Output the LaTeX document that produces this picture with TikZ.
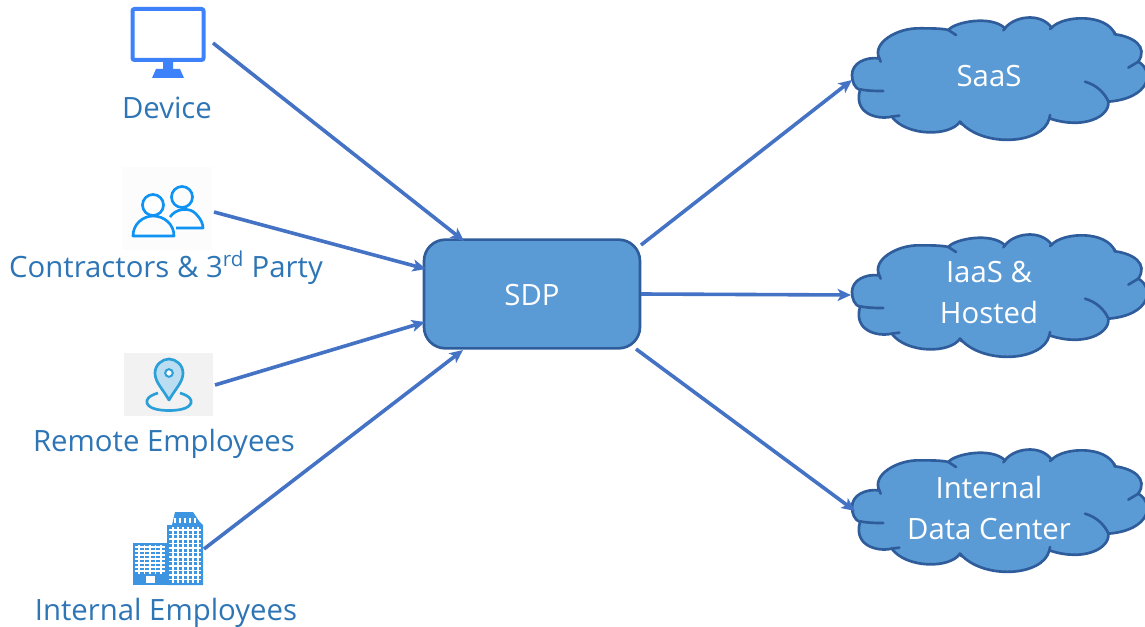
\documentclass[tikz,border=0pt]{standalone}
\usepackage{fontspec}
\setmainfont{Open Sans}
\usetikzlibrary{arrows.meta}
\definecolor{linkc}{HTML}{4472C4}
\definecolor{fillc}{HTML}{5B9BD5}
\definecolor{edgec}{HTML}{2F5D9B}
\definecolor{labelc}{HTML}{2E75B6}
\definecolor{monc}{HTML}{3D82FA}
\definecolor{pplc}{HTML}{0E93F5}
\definecolor{pinc}{HTML}{2A9FD8}
\definecolor{pinf}{HTML}{BBDDF2}
\definecolor{bldc}{HTML}{3D94E0}
\tikzset{
  link/.style={draw=linkc,line width=2.7pt,-{Stealth[length=10pt,width=9pt,inset=2.5pt]}},
  label/.style={text=labelc,font=\fontsize{22}{26}\selectfont,inner sep=0pt,anchor=base},
  inbox/.style={text=white,font=\fontsize{22}{30.75}\selectfont,align=center,inner sep=0pt},
  cloudline/.style={draw=edgec,line width=2pt,line cap=round,line join=round},
}
\newcommand{\mycloud}[1]{%
\begin{scope}[shift={(840,5+#1)},x=0.25pt,y=-0.25pt]
\path[cloudline,fill=fillc] (36,210)
 .. controls (36,175) and (75,155) .. (118,160)
 .. controls (95,115) and (170,68) .. (240,70)
 .. controls (270,70) and (305,70) .. (325,75)
 .. controls (345,50) and (455,30) .. (495,70)
 .. controls (520,35) and (600,20) .. (635,68)
 .. controls (670,30) and (800,25) .. (825,88)
 .. controls (880,95) and (925,125) .. (895,170)
 .. controls (945,200) and (930,280) .. (805,290)
 .. controls (810,335) and (730,375) .. (628,340)
 .. controls (610,418) and (430,430) .. (360,350)
 .. controls (330,395) and (200,395) .. (155,335)
 .. controls (110,345) and (40,325) .. (60,255)
 .. controls (44,250) and (36,230) .. (36,210) -- cycle;
\draw[cloudline] (60,253) .. controls (85,258) and (110,258) .. (130,258);
\draw[cloudline] (118,160) -- (122,170);
\draw[cloudline] (155,335) -- (178,332);
\draw[cloudline] (360,350) -- (365,358);
\draw[cloudline] (628,340) -- (630,330);
\draw[cloudline] (735,230) .. controls (770,240) and (795,265) .. (805,290);
\draw[cloudline] (865,188) -- (895,170);
\draw[cloudline] (825,88) -- (822,80);
\draw[cloudline] (635,68) -- (630,72);
\draw[cloudline] (495,70) -- (490,76);
\draw[cloudline] (325,75) -- (348,90);
\end{scope}}
\begin{document}
\begin{tikzpicture}[x=0.75pt,y=-0.75pt]
\useasboundingbox (0,0) rectangle (1145,627);
\clip (0,0) rectangle (1145,627);
% clouds
\mycloud{0}
\mycloud{217}
\mycloud{432}
% SDP
\node[draw=edgec,fill=fillc,line width=2pt,rounded corners=16pt,minimum width=162pt,minimum height=81.5pt,inner sep=0pt] (sdp) at (532,294) {};
\node[inbox] (sdptext) at (532,295) {SDP};
\node[inbox] (saas) at (989,76) {SaaS};
\node[inbox] (iaas) at (989,292.5) {IaaS \&\\Hosted};
\node[inbox] (dc) at (989,507.5) {Internal\\Data Center};
% monitor
\draw[monc,line width=3pt,rounded corners=1.5pt] (132.5,9) rectangle (203.5,60);
\fill[monc] (163,61) -- (173,61) -- (173,69) -- (180,69) -- (184,78) -- (152,78) -- (156,69) -- (163,69) -- cycle;
% people
\fill[black!2,opacity=.6] (122,167) rectangle (212,250);
\begin{scope}[pplc,line width=2pt,line join=round]
\draw (182,197) circle (10.5);
\draw (170,217) .. controls (176,208) and (190,207) .. (196,214) .. controls (201,219) and (203,224) .. (203,228) -- (176,228);
\draw[fill=white] (153,205) circle (10.5);
\draw (133,236) .. controls (133,224) and (143,216) .. (153,216) .. controls (164,216) and (174,224) .. (174,236) -- cycle;
\end{scope}
% pin
\fill[black!5] (124,353) rectangle (213,416);
\begin{scope}[pinc,line width=2pt]
\draw (158,393) .. controls (148,396) and (146,400) .. (147,403) .. controls (149,409) and (160,410.5) .. (169,410.5) .. controls (178,410.5) and (189,409) .. (191,403) .. controls (192,400) and (190,396) .. (180,393);
\draw[fill=pinf,line join=round] (169,400) .. controls (162,388) and (155,382) .. (155,373) .. controls (155,365) and (162,359) .. (169,359) .. controls (176,359) and (183,365) .. (183,373) .. controls (183,382) and (176,388) .. (169,400) -- cycle;
\draw[fill=white,line width=1.5pt] (169,373) circle (3.8);
\end{scope}
% building
\fill[bldc] (133,543) rectangle (167,585);
\fill[bldc] (167,525) -- (172,525) -- (175,512) -- (193,512) -- (199,521) -- (203,525) -- (203,585) -- (167,585) -- cycle;
\foreach \yy in {547,551,...,573} \draw[white,line width=1.2pt] (135,\yy) -- (165,\yy);
\foreach \xx in {139,144.5,150,155.5,161} \draw[white,line width=1.2pt] (\xx,545) -- (\xx,574);
\foreach \yy in {530,534.5,...,581} \draw[white,line width=1.2pt] (169,\yy) -- (201,\yy);
\foreach \xx in {173,178,183,188,193,198} \draw[white,line width=1.2pt] (\xx,527) -- (\xx,583);
\foreach \xx in {175,180,185,190,195} \draw[white,line width=.8pt] (\xx,518) -- (\xx,523);
\fill[white] (146,576) rectangle (155,583);
% labels
\node[label] (ldevice) at (167,119) {Device};
\node[label] (lcontr) at (166,277) {Contractors \& 3\textsuperscript{rd} Party};
\node[label] (lremote) at (164,451) {Remote Employees};
\node[label] (linternal) at (166,620) {Internal Employees};
% connector ends
\coordinate (a1) at (213,43); \coordinate (b1) at (464,241);
\coordinate (a2) at (214,212); \coordinate (b2) at (426,269);
\coordinate (a3) at (215,385); \coordinate (b3) at (425,322);
\coordinate (a4) at (204,549); \coordinate (b4) at (463,350);
\coordinate (c1) at (641,245); \coordinate (d1) at (852,80);
\coordinate (c2) at (641,294); \coordinate (d2) at (851,295);
\coordinate (c3) at (636,349); \coordinate (d3) at (855,511);
\foreach \p/\q in {a1/b1,a2/b2,a3/b3,a4/b4,c1/d1,c2/d2,c3/d3} \draw[link] (\p) -- (\q);
\end{tikzpicture}
\end{document}
